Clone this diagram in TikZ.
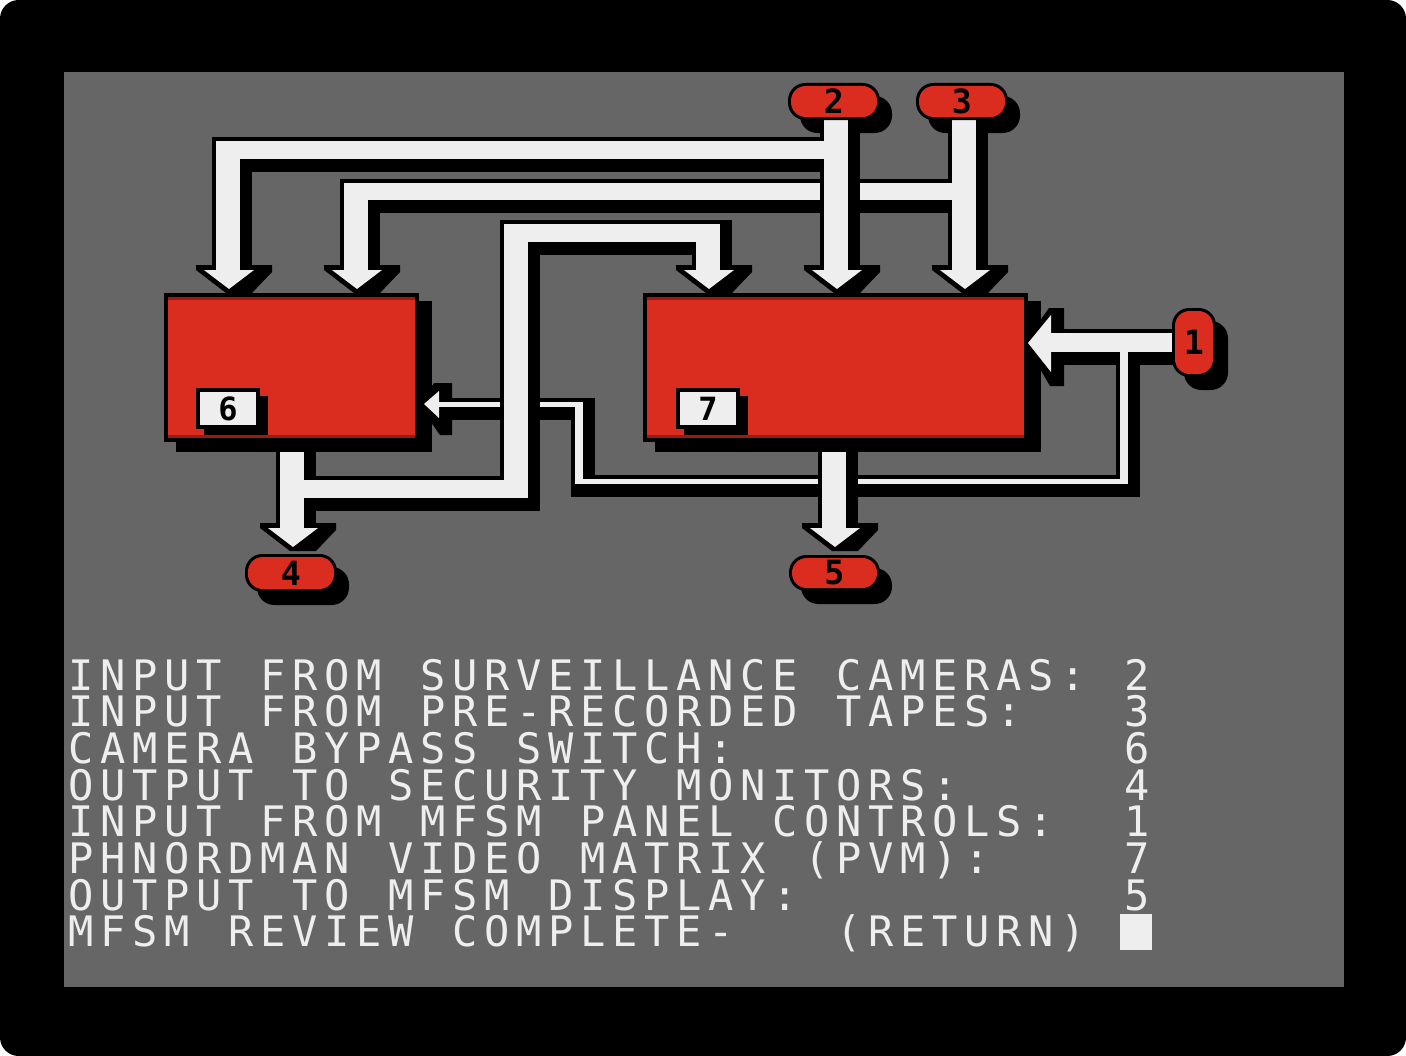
\documentclass[tikz,border=0pt]{standalone}
\usepackage{fontspec}
\usepackage{graphicx}
\newfontfamily\applefont{DejaVu Sans Mono}
\definecolor{panel}{RGB}{102,102,102}
\definecolor{boxred}{RGB}{218,45,32}
\definecolor{darkred}{RGB}{150,28,20}
\definecolor{pw}{RGB}{238,238,238}
\newcommand\PipeShadow[4]{\fill[black] ({#1-4},{#2-4}) rectangle ({#3+12},{#4+13});}
\newcommand\PipeWhite[4]{\fill[pw] (#1,#2) rectangle (#3,#4);}
\newcommand\DownHeadShadow[2]{\fill[black] ({#1-32},{#2-5}) -- ({#1+44},{#2-5}) -- ({#1+44},{#2+2}) -- ({#1+24},{#2+23}) -- ({#1-2},{#2+23}) -- ({#1-32},{#2}) -- cycle;}
\newcommand\DownHeadWhite[2]{\fill[pw] ({#1-24},{#2}) -- ({#1+26},{#2}) -- ({#1+1},{#2+19}) -- cycle;}
\newcommand\RedBox[5]{%
  \fill[black] ({#2+12},{#3+8}) rectangle ({#4+13},{#5+10});
  \fill[black] (#2,#3) rectangle (#4,#5);
  \fill[boxred] ({#2+4},{#3+4}) rectangle ({#4-4},{#5-4});
  \fill[darkred] ({#2+4},{#3+4}) rectangle ({#4-4},{#3+7});
  \fill[darkred] ({#2+4},{#5-7}) rectangle ({#4-4},{#5-4});
  \coordinate (#1) at ({(#2+#4)/2},{(#3+#5)/2});}
\newcommand\LabelBox[6]{%
  \fill[black] ({#2+4},{#3+4}) rectangle ({#4+12},{#5+10});
  \fill[black] ({#2-4},{#3-4}) rectangle ({#4+4},{#5+4});
  \fill[pw] (#2,#3) rectangle (#4,#5);
  \node[labdigit] (#1) at ({(#2+#4)/2},{(#3+#5)/2}) {#6};}
\newcommand\BadgeShadow[4]{\fill[black,rounded corners=13pt] ({#1+12},{#2+13}) rectangle ({#3+12},{#4+13});}
\newcommand\Badge[6]{%
  \fill[black,rounded corners=13pt] (#2,#3) rectangle (#4,#5);
  \fill[boxred,rounded corners=11pt] ({#2+3},{#3+3}) rectangle ({#4-3},{#5-3});
  \node[digit] (#1) at ({(#2+#4)/2},{(#3+#5)/2}) {#6};}
% monospaced 40-column text: each character in a fixed 32px cell
\newcommand\ApLine[1]{\ApLineA#1\relax}
\def\ApLineA#1{\ifx\relax#1\else\makebox[24pt][c]{#1}\expandafter\ApLineA\fi}
\begin{document}
\begin{tikzpicture}[x=0.75pt,y=-0.75pt,
  digit/.style={inner sep=0pt,text=black,font=\applefont\bfseries\fontsize{25}{25}\selectfont},
  labdigit/.style={inner sep=0pt,text=black,font=\applefont\bfseries\fontsize{24}{24}\selectfont},
  txt/.style={anchor=base west,inner sep=0pt,text=pw,font=\applefont\fontsize{31.5}{32}\selectfont\frenchspacing}]
\useasboundingbox (0,0) rectangle (1406,1056);
% frame and screen
\fill[white] (0,0) rectangle (1406,1056);
\fill[black,rounded corners=14pt] (0,0) rectangle (1406,1056);
\fill[panel] (64,72) rectangle (1344,987);
% boxes
\RedBox{box6}{164}{293}{419}{442}
\RedBox{box7}{643}{293}{1028}{442}
\LabelBox{lab6}{200}{392}{256}{425}{6}
\LabelBox{lab7}{680}{392}{736}{425}{7}
% badge shadows
\BadgeShadow{788}{83}{880}{120}
\BadgeShadow{916}{83}{1008}{120}
\BadgeShadow{245}{554}{337}{592}
\BadgeShadow{789}{555}{880}{591}
\BadgeShadow{1172}{308}{1216}{377}
% group 1: tapes (3) to both units
\PipeShadow{344}{183}{952}{200}
\PipeShadow{344}{183}{368}{270}
\PipeShadow{952}{120}{976}{270}
\DownHeadShadow{356}{270}
\DownHeadShadow{964}{270}
\PipeWhite{344}{183}{952}{200}
\PipeWhite{344}{183}{368}{270}
\PipeWhite{952}{120}{976}{270}
\DownHeadWhite{356}{270}
\DownHeadWhite{964}{270}
% group 2: cameras (2) to both units
\PipeShadow{216}{141}{824}{159}
\PipeShadow{216}{141}{240}{270}
\PipeShadow{824}{120}{848}{270}
\DownHeadShadow{228}{270}
\DownHeadShadow{836}{270}
\PipeWhite{216}{141}{824}{159}
\PipeWhite{216}{141}{240}{270}
\PipeWhite{824}{120}{848}{270}
\DownHeadWhite{228}{270}
\DownHeadWhite{836}{270}
% group 3: panel controls (1)
\PipeShadow{1051}{333}{1172}{352}
\PipeShadow{1120}{352}{1128}{484}
\PipeShadow{575}{479}{1128}{484}
\PipeShadow{575}{402}{583}{484}
\PipeShadow{439}{402}{583}{407}
\fill[black] (1024,343) -- (1049,308) -- (1064,308) -- (1064,386) -- (1050,386) -- (1036,362) -- cycle;
\fill[black] (420,404) -- (434,383) -- (452,383) -- (452,435) -- (440,435) -- (428,418) -- cycle;
\PipeWhite{1051}{333}{1172}{352}
\PipeWhite{1120}{352}{1128}{484}
\PipeWhite{575}{479}{1128}{484}
\PipeWhite{575}{402}{583}{484}
\PipeWhite{439}{402}{583}{407}
\fill[pw] (1028,343) -- (1051,315) -- (1051,372) -- cycle;
\fill[pw] (424,404) -- (439,391) -- (439,418) -- cycle;
% group 4: switch (6) outputs
\PipeShadow{280}{452}{304}{528}
\PipeShadow{304}{480}{528}{498}
\PipeShadow{504}{224}{528}{498}
\PipeShadow{504}{224}{720}{242}
\PipeShadow{696}{224}{720}{270}
\DownHeadShadow{292}{528}
\DownHeadShadow{708}{270}
\PipeWhite{280}{452}{304}{528}
\PipeWhite{304}{480}{528}{498}
\PipeWhite{504}{224}{528}{498}
\PipeWhite{504}{224}{720}{242}
\PipeWhite{696}{224}{720}{270}
\DownHeadWhite{292}{528}
\DownHeadWhite{708}{270}
% group 5: matrix (7) to display (5)
\PipeShadow{822}{452}{846}{528}
\DownHeadShadow{834}{528}
\PipeWhite{822}{452}{846}{528}
\DownHeadWhite{834}{528}
% badges
\Badge{b2}{788}{83}{880}{120}{2}
\Badge{b3}{916}{83}{1008}{120}{3}
\Badge{b4}{245}{554}{337}{592}{4}
\Badge{b5}{789}{555}{880}{591}{5}
\Badge{b1}{1172}{308}{1216}{377}{1}
% legend text
\node[txt] (t1) at (65,690.0) {\ApLine{INPUT~FROM~SURVEILLANCE~CAMERAS:~2}};
\node[txt] (t2) at (65,726.7) {\ApLine{INPUT~FROM~PRE-RECORDED~TAPES:~~~3}};
\node[txt] (t3) at (65,763.4) {\ApLine{CAMERA~BYPASS~SWITCH:~~~~~~~~~~~~6}};
\node[txt] (t4) at (65,800.1) {\ApLine{OUTPUT~TO~SECURITY~MONITORS:~~~~~4}};
\node[txt] (t5) at (65,836.8) {\ApLine{INPUT~FROM~MFSM~PANEL~CONTROLS:~~1}};
\node[txt] (t6) at (65,873.5) {\ApLine{PHNORDMAN~VIDEO~MATRIX~(PVM):~~~~7}};
\node[txt] (t7) at (65,910.2) {\ApLine{OUTPUT~TO~MFSM~DISPLAY:~~~~~~~~~~5}};
\node[txt] (t8) at (65,946.9) {\ApLine{MFSM~REVIEW~COMPLETE-~~~(RETURN)}};
\fill[pw] (1120,914) rectangle (1152,950);
\end{tikzpicture}
\end{document}
